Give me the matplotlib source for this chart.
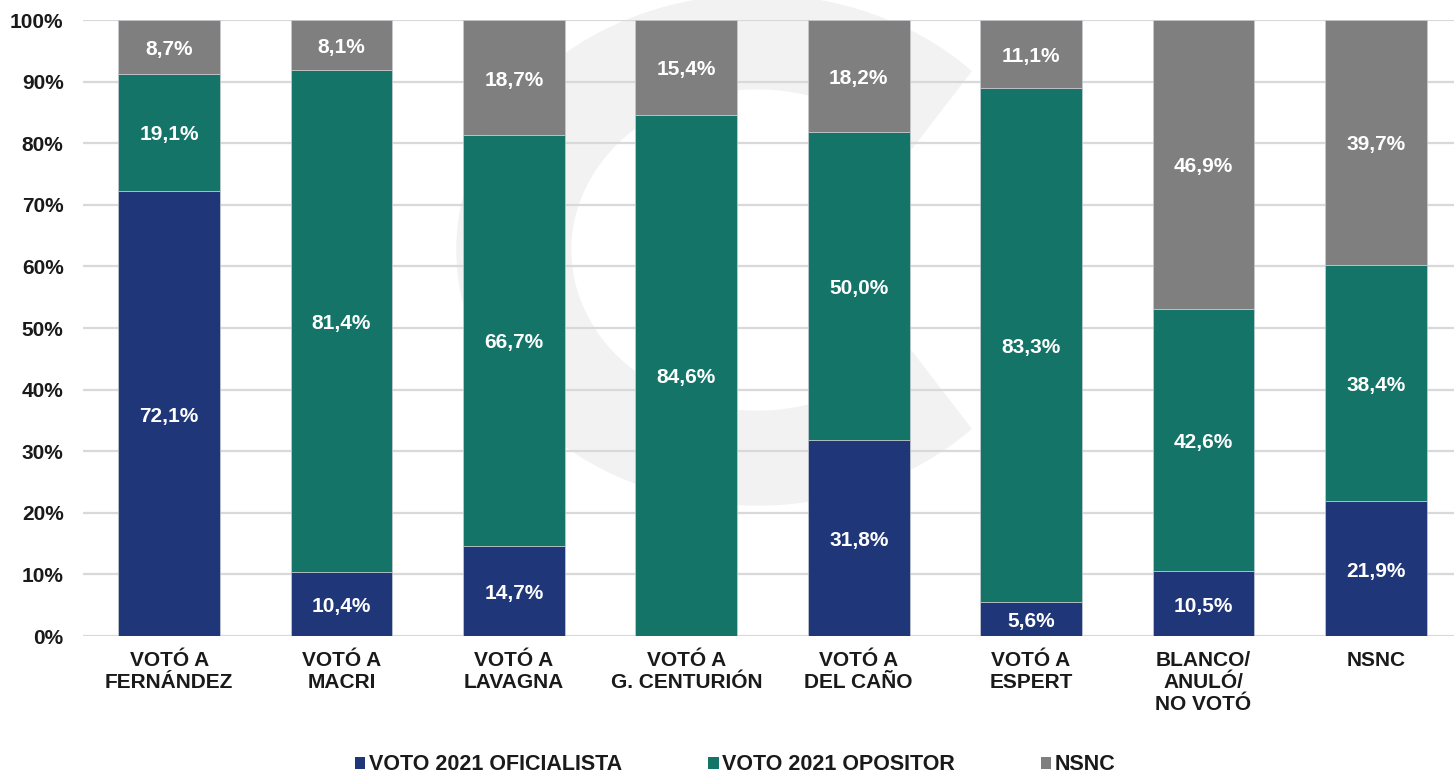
import matplotlib
matplotlib.use("Agg")
import matplotlib.pyplot as plt
from matplotlib.patches import Ellipse, Polygon, Patch
from matplotlib.transforms import IdentityTransform
import numpy as np

# datos del grafico
categorias = ["VOTÓ A\nFERNÁNDEZ", "VOTÓ A\nMACRI", "VOTÓ A\nLAVAGNA",
              "VOTÓ A\nG. CENTURIÓN", "VOTÓ A\nDEL CAÑO", "VOTÓ A\nESPERT",
              "BLANCO/\nANULÓ/\nNO VOTÓ", "NSNC"]
oficialista = [72.1, 10.4, 14.7, 0.0, 31.8, 5.6, 10.5, 21.9]
opositor = [19.1, 81.4, 66.7, 84.6, 50.0, 83.3, 42.6, 38.4]
nsnc = [8.7, 8.1, 18.7, 15.4, 18.2, 11.1, 46.9, 39.7]
series = ["VOTO 2021 OFICIALISTA", "VOTO 2021 OPOSITOR", "NSNC"]
colores = ["#1f3679", "#147468", "#7f7f7f"]

plt.rcParams['font.family'] = ['Liberation Sans', 'DejaVu Sans']
plt.rcParams['font.weight'] = 'bold'

W, H = 1454, 774
fig = plt.figure(figsize=(W / 100, H / 100), dpi=100)

# marca de agua (logo tenue de fondo)
wm = "#f2f2f2"
ident = IdentityTransform()
fig.add_artist(Ellipse((757, H - 250), 600, 510, color=wm, transform=ident, zorder=-3))
fig.add_artist(Ellipse((757, H - 250), 370, 320, color="white", transform=ident, zorder=-2))
fig.add_artist(Polygon([(835, H - 250), (1120, H - 250 + 370), (1120, H - 250 - 370)],
                       closed=True, color="white", transform=ident, zorder=-2))

ax = fig.add_axes([83 / W, (H - 636) / H, (1462 - 83) / W, (636 - 20) / H])
ax.set_facecolor("none")

datos = np.array([oficialista, opositor, nsnc])
totales = datos.sum(axis=0)
x = np.arange(len(categorias))
base = np.zeros(len(categorias))
for vals, color in zip(datos, colores):
    alto = vals / totales * 100
    bars = ax.bar(x, alto, bottom=base, width=0.59, color=color,
                  edgecolor="#c8ccd0", linewidth=0.5, zorder=3)
    for b, v, h0, h in zip(bars, vals, base, alto):
        if v > 0:
            ax.text(b.get_x() + b.get_width() / 2, h0 + h / 2 - 0.4,
                    f"{v:.1f}%".replace(".", ","), ha="center", va="center",
                    color="white", fontsize=15, fontweight="bold", zorder=4)
    base = base + alto

ax.set_xlim(-0.5, len(categorias) - 0.5)
ax.set_ylim(0, 100)
ax.set_yticks(np.arange(0, 101, 10))
ax.set_yticklabels([f"{t}%" for t in range(0, 101, 10)])
ax.set_xticks(x)
ax.set_xticklabels(categorias)
ax.tick_params(axis="both", length=0, labelsize=15, labelcolor="#1a1a1a")
ax.tick_params(axis="y", pad=14)
ax.tick_params(axis="x", pad=11)
for s in ax.spines.values():
    s.set_visible(False)
ax.yaxis.grid(True, color="#d9d9d9", linewidth=1.6, zorder=0)
ax.set_axisbelow(True)

handles = [Patch(facecolor=c, edgecolor="none") for c in colores]
fig.legend(handles, series, loc="center", bbox_to_anchor=(735 / W, (H - 765) / H),
           ncol=3, frameon=False, fontsize=15.5, handlelength=0.5, handleheight=0.5,
           handletextpad=0.15, columnspacing=4.0, labelcolor="#1a1a1a")

fig.savefig("out.png", dpi=100)
